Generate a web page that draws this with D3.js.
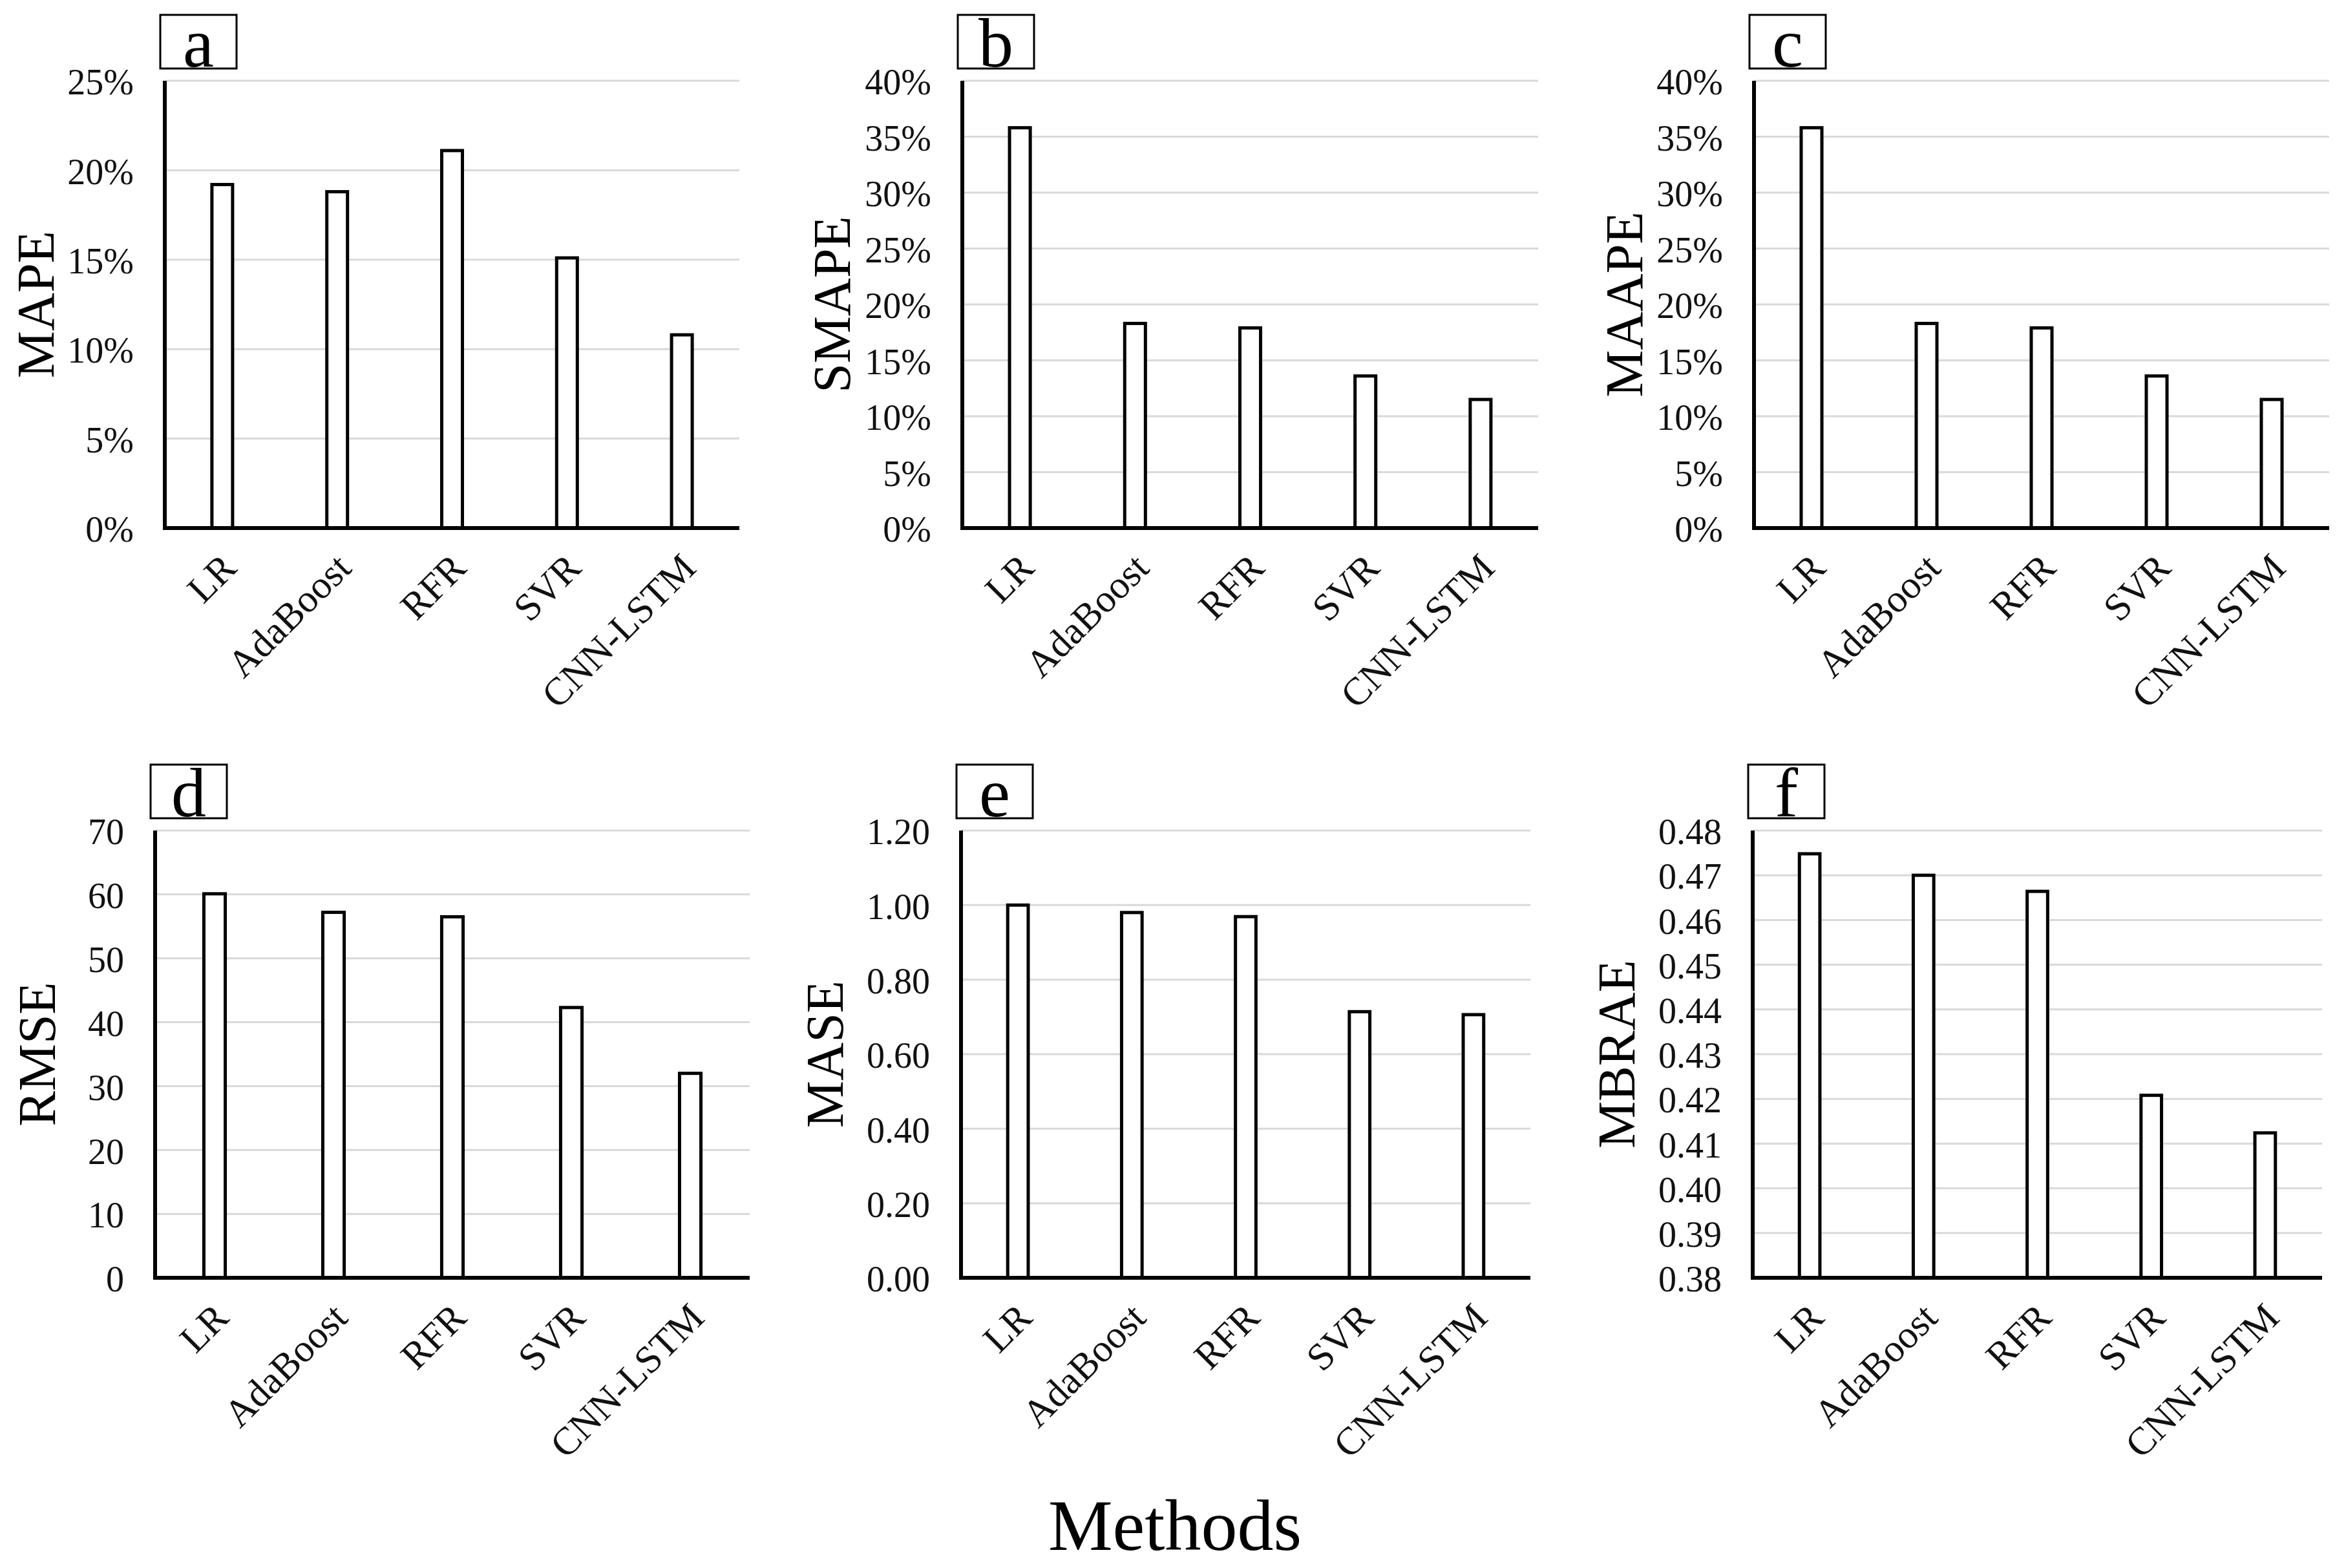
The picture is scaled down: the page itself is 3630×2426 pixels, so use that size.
<!DOCTYPE html>
<html>
<head>
<meta charset="utf-8">
<script src="https://cdn.jsdelivr.net/npm/d3@7"></script>
<style>
  html, body { margin: 0; padding: 0; background: #ffffff; }
  svg { display: block; }
</style>
</head>
<body>
<svg id="chart" width="3630" height="2426"></svg>
<script>
// ---------- data ----------
const categories = ["LR", "AdaBoost", "RFR", "SVR", "CNN-LSTM"];
const panelLetters = ["a", "b", "c", "d", "e", "f"];
const metricNames = ["MAPE", "SMAPE", "MAAPE", "RMSE", "MASE", "MBRAE"];

const mapeValues  = [0.192, 0.188, 0.211, 0.151, 0.108];
const smapeValues = [0.358, 0.183, 0.179, 0.136, 0.115];
const maapeValues = [0.358, 0.183, 0.179, 0.136, 0.115];
const rmseValues  = [60.1, 57.2, 56.5, 42.3, 32.0];
const maseValues  = [1.00, 0.98, 0.969, 0.714, 0.706];
const mbraeValues = [0.4748, 0.4700, 0.4664, 0.4208, 0.4124];

const mapeTicks  = [0, 0.05, 0.10, 0.15, 0.20, 0.25];
const smapeTicks = [0, 0.05, 0.10, 0.15, 0.20, 0.25, 0.30, 0.35, 0.40];
const maapeTicks = [0, 0.05, 0.10, 0.15, 0.20, 0.25, 0.30, 0.35, 0.40];
const rmseTicks  = [0, 10, 20, 30, 40, 50, 60, 70];
const maseTicks  = [0, 0.2, 0.4, 0.6, 0.8, 1.0, 1.2];
const mbraeTicks = [0.38, 0.39, 0.40, 0.41, 0.42, 0.43, 0.44, 0.45, 0.46, 0.47, 0.48];

const xAxisTitle = "Methods";

// ---------- layout ----------
const FONT = "'Liberation Serif', 'Times New Roman', serif";
const pct = d3.format(".0%");
const panels = [
  { values: mapeValues,  ticks: mapeTicks,  fmt: pct,            x0: 255,  x1: 1144, yT: 125,  yB: 817,  labX: 54 },
  { values: smapeValues, ticks: smapeTicks, fmt: pct,            x0: 1489, x1: 2380, yT: 125,  yB: 817,  labX: 1286 },
  { values: maapeValues, ticks: maapeTicks, fmt: pct,            x0: 2714, x1: 3604, yT: 125,  yB: 817,  labX: 2512 },
  { values: rmseValues,  ticks: rmseTicks,  fmt: d3.format("d"), x0: 240,  x1: 1160, yT: 1285, yB: 1977, labX: 56 },
  { values: maseValues,  ticks: maseTicks,  fmt: d3.format(".2f"), x0: 1487, x1: 2368, yT: 1285, yB: 1977, labX: 1275 },
  { values: mbraeValues, ticks: mbraeTicks, fmt: d3.format(".2f"), x0: 2712, x1: 3593, yT: 1285, yB: 1977, labX: 2500 }
];

const svg = d3.select("#chart");
svg.append("rect").attr("width", 3630).attr("height", 2426).attr("fill", "#fff");

panels.forEach((p, i) => {
  const g = svg.append("g");
  const dom = [p.ticks[0], p.ticks[p.ticks.length - 1]];
  const y = d3.scaleLinear().domain(dom).range([p.yB, p.yT]);
  const x = d3.scaleBand().domain(categories).range([p.x0, p.x1])
    .paddingInner(0.82).paddingOuter(0.41);

  // grid lines
  g.append("g").selectAll("line").data(p.ticks.slice(1)).join("line")
    .attr("x1", p.x0).attr("x2", p.x1)
    .attr("y1", d => y(d)).attr("y2", d => y(d))
    .attr("stroke", "#d9d9d9").attr("stroke-width", 3);

  // y tick labels
  g.append("g").selectAll("text").data(p.ticks).join("text")
    .attr("x", p.x0 - 48).attr("y", d => y(d))
    .attr("dy", "0.38em")
    .attr("text-anchor", "end")
    .attr("font-family", FONT).attr("font-size", 56).attr("fill", "#111")
    .text(d => p.fmt(d));

  // bars
  g.append("g").selectAll("rect").data(p.values).join("rect")
    .attr("x", (d, k) => x(categories[k]))
    .attr("width", x.bandwidth())
    .attr("y", d => y(d))
    .attr("height", d => y(dom[0]) - y(d))
    .attr("fill", "#fff").attr("stroke", "#000").attr("stroke-width", 5);

  // axes lines
  g.append("line").attr("x1", p.x0).attr("x2", p.x0).attr("y1", p.yT).attr("y2", p.yB + 3)
    .attr("stroke", "#000").attr("stroke-width", 6);
  g.append("line").attr("x1", p.x0).attr("x2", p.x1).attr("y1", p.yB).attr("y2", p.yB)
    .attr("stroke", "#000").attr("stroke-width", 6);

  // x tick labels (rotated)
  g.append("g").selectAll("text").data(categories).join("text")
    .attr("transform", d => `translate(${x(d) + x.bandwidth() / 2 + 10},${p.yB + 50}) rotate(-45)`)
    .attr("text-anchor", "end")
    .attr("dy", "0.35em")
    .attr("font-family", FONT).attr("font-size", 60).attr("fill", "#111")
    .text(d => d);

  // y axis title
  g.append("text")
    .attr("transform", `translate(${p.labX},${(p.yT + p.yB) / 2}) rotate(-90)`)
    .attr("text-anchor", "middle").attr("dy", "0.35em")
    .attr("font-family", FONT).attr("font-size", 82).attr("fill", "#000")
    .text(metricNames[i]);

  // panel letter box
  const bx = p.x0 - 7, by = p.yT - 102, bw = 118, bh = 83;
  g.append("rect").attr("x", bx).attr("y", by).attr("width", bw).attr("height", bh)
    .attr("fill", "#fff").attr("stroke", "#000").attr("stroke-width", 3);
  g.append("text").attr("x", bx + bw / 2).attr("y", by + bh - 3)
    .attr("text-anchor", "middle")
    .attr("font-family", FONT).attr("font-size", 108).attr("fill", "#000")
    .text(panelLetters[i]);
});

svg.append("text").attr("x", 1818).attr("y", 2398)
  .attr("text-anchor", "middle")
  .attr("font-family", FONT).attr("font-size", 112).attr("fill", "#000")
  .text(xAxisTitle);
</script>
</body>
</html>
